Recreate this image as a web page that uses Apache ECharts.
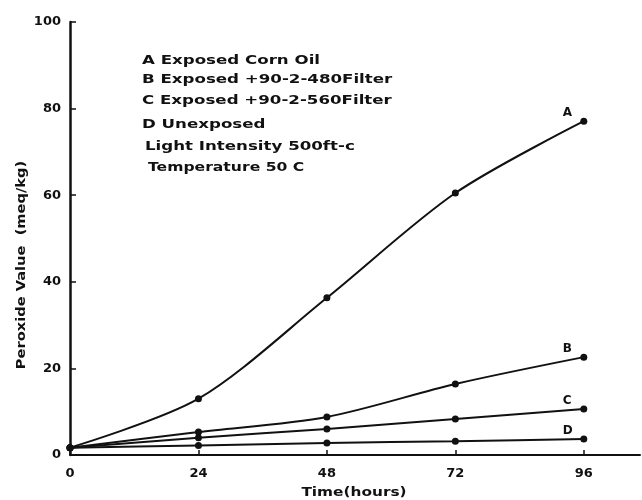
<!DOCTYPE html>
<html>
<head>
<meta charset="utf-8">
<script src="https://cdn.jsdelivr.net/npm/echarts@6/dist/echarts.min.js"></script>
<style>
  html, body { margin: 0; padding: 0; background: #fff; }
  #chart { width: 642px; height: 500px; }
</style>
</head>
<body>
<div id="chart"></div>
<script>
// hours
var hours = [0, 24, 48, 72, 96];
var xTicks = [0, 24, 48, 72, 96];
// peroxide value (meq/kg)
var seriesA = [1.7, 13.0, 36.3, 60.5, 77.1];
var seriesB = [1.7, 5.3, 8.8, 16.4, 22.6];
var seriesC = [1.7, 4.0, 6.0, 8.3, 10.6];
var seriesD = [1.7, 2.2, 2.8, 3.2, 3.7];
var legendLines = [
  'A Exposed Corn Oil',
  'B Exposed +90-2-480Filter',
  'C Exposed +90-2-560Filter',
  'D Unexposed',
  'Light Intensity 500ft-c',
  'Temperature 50 C'
];

var font = 'DejaVu Sans';
var ink = '#111';

function pairs(vals) {
  var out = [];
  for (var i = 0; i < vals.length; i++) {
    out.push([hours[i], vals[i]]);
  }
  return out;
}

function makeSeries(name, vals, smooth) {
  return {
    name: name,
    type: 'line',
    data: pairs(vals),
    smooth: smooth,
    symbol: 'circle',
    symbolSize: 7,
    lineStyle: { color: ink, width: 2 },
    itemStyle: { color: ink },
    endLabel: {
      show: true,
      formatter: name,
      offset: [-29, -8],
      fontFamily: font,
      fontWeight: 'bold',
      fontSize: 12,
      color: ink
    },
    emphasis: { disabled: true }
  };
}

var chart = echarts.init(document.getElementById('chart'));

// legend block, typed as text in the figure (stretched: the print is letter-spaced)
var legendTops = [61, 80, 101, 125, 147, 168];
var legendLefts = [142, 142, 142, 142, 145, 148];
var graphics = [];
for (var i = 0; i < legendLines.length; i++) {
  graphics.push({
    type: 'text',
    x: legendLefts[i],
    y: legendTops[i],
    scaleX: i == 5 ? 1.2 : 1.28,
    style: {
      text: legendLines[i],
      font: 'bold 13px "DejaVu Sans"',
      fill: ink,
      verticalAlign: 'middle'
    }
  });
}
// y axis title
graphics.push({
  type: 'text',
  x: 22,
  y: 265,
  rotation: Math.PI / 2,
  scaleX: 1.22,
  style: {
    text: 'Peroxide Value  (meq/kg)',
    font: 'bold 12px "DejaVu Sans"',
    fill: ink,
    align: 'center',
    verticalAlign: 'middle'
  }
});
// x axis title
graphics.push({
  type: 'text',
  x: 354,
  y: 493,
  scaleX: 1.18,
  style: {
    text: 'Time(hours)',
    font: 'bold 13px "DejaVu Sans"',
    fill: ink,
    align: 'center',
    verticalAlign: 'middle'
  }
});

var option = {
  backgroundColor: '#fff',
  animation: false,
  grid: { left: 70, right: 2, top: 22, bottom: 45 },
  xAxis: {
    type: 'value',
    min: 0,
    max: 106.5,
    axisLine: { lineStyle: { color: ink, width: 2 } },
    axisTick: { show: true, inside: true, length: 5, customValues: xTicks, lineStyle: { color: ink, width: 1.5 } },
    axisLabel: { customValues: xTicks, margin: 12, fontFamily: font, fontWeight: 'bold', fontSize: 13, color: ink },
    splitLine: { show: false }
  },
  yAxis: {
    type: 'value',
    min: 0,
    max: 100,
    interval: 20,
    axisLine: { show: true, lineStyle: { color: ink, width: 2.5 } },
    axisTick: { show: true, inside: true, length: 6, lineStyle: { color: ink, width: 1.5 } },
    axisLabel: { margin: 9, fontFamily: font, fontWeight: 'bold', fontSize: 13, color: ink },
    splitLine: { show: false }
  },
  graphic: graphics,
  series: [
    makeSeries('A', seriesA, 0.3),
    makeSeries('B', seriesB, 0.3),
    makeSeries('C', seriesC, 0.2),
    makeSeries('D', seriesD, 0.2)
  ]
};

chart.setOption(option);
</script>
</body>
</html>
